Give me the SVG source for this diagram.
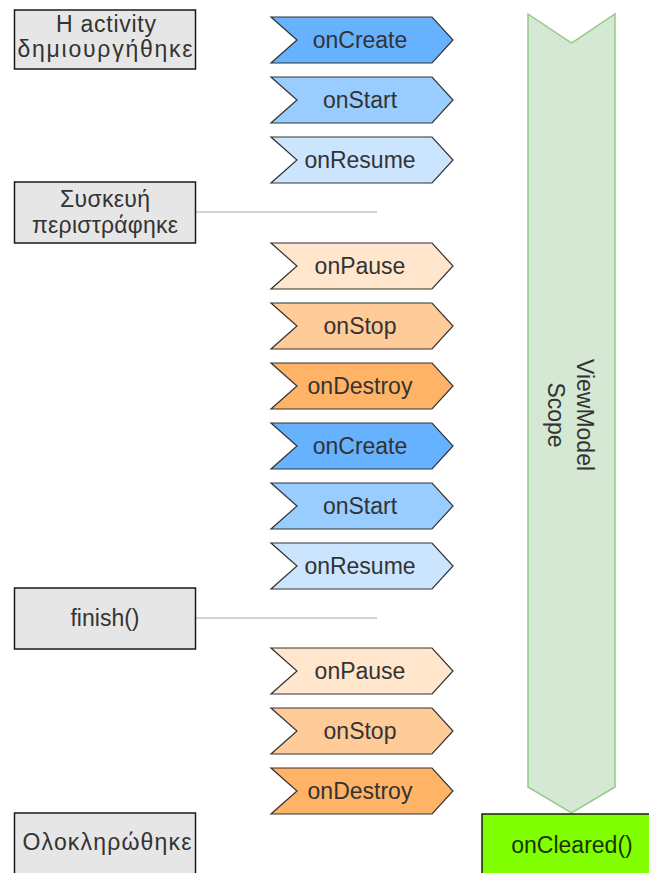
<svg xmlns="http://www.w3.org/2000/svg" width="649" height="873" viewBox="0 0 649 873">
  <style>
    text { font-family: "Liberation Sans", Arial, sans-serif; font-size: 23px; fill: #333333; text-anchor: middle; }
    .event { fill: #e6e6e6; stroke: #1a1a1a; stroke-width: 1.5; }
    .step { stroke: #333333; stroke-width: 1.2; stroke-linejoin: miter; }
    .c1 { fill: #66b2ff; }
    .c2 { fill: #99ccff; }
    .c3 { fill: #cce5ff; }
    .d1 { fill: #ffe6cc; }
    .d2 { fill: #ffcc99; }
    .d3 { fill: #ffb366; }
    .link { stroke: #d3d3d3; stroke-width: 2; fill: none; }
    .scope { fill: #d5e8d4; stroke: #97c98a; stroke-width: 1.5; }
    .cleared { fill: #80ff00; stroke: #1a1a1a; stroke-width: 1.5; }
  </style>
  <defs>
    <!-- lifecycle step shape, 182 x 46, origin at top-left -->
    <polygon id="stepShape" points="0,0 161,0 182,23 161,46 0,46 26,23"/>
  </defs>

  <!-- connectors -->
  <g id="connectors">
    <line class="link" x1="196" y1="212" x2="377" y2="212"/>
    <line class="link" x1="196" y1="618" x2="377" y2="618"/>
  </g>

  <!-- ViewModel scope band -->
  <g id="viewmodel-scope">
    <polygon class="scope" points="528,14 571.5,43 615,14 615,787 571.5,813 528,787"/>
    <text transform="translate(571,415) rotate(90)"><tspan x="0" y="-6">ViewModel</tspan><tspan x="0" y="23">Scope</tspan></text>
  </g>

  <g id="on-cleared">
    <rect class="cleared" x="482" y="814" width="182" height="62"/>
    <text x="572" y="853" style="fill:#1a3300">onCleared()</text>
  </g>

  <!-- activity events -->
  <g id="activity-created">
    <rect class="event" x="14.5" y="10" width="181" height="59"/>
    <text x="106" y="32" textLength="100">H activity</text>
    <text x="105" y="57" textLength="175">δημιουργήθηκε</text>
  </g>
  <g id="device-rotated">
    <rect class="event" x="14.5" y="182" width="181" height="61"/>
    <text x="105" y="207" textLength="90">Συσκευή</text>
    <text x="105" y="233" textLength="146">περιστράφηκε</text>
  </g>
  <g id="finish-called">
    <rect class="event" x="14.5" y="588" width="181" height="61"/>
    <text x="105" y="626">finish()</text>
  </g>
  <g id="completed">
    <rect class="event" x="14.5" y="813" width="181" height="62"/>
    <text x="107" y="850" textLength="169">Ολοκληρώθηκε</text>
  </g>

  <!-- first lifecycle -->
  <g id="on-create-1" transform="translate(271,17)">
    <use href="#stepShape" class="step c1"/>
    <text x="89" y="31">onCreate</text>
  </g>
  <g id="on-start-1" transform="translate(271,77)">
    <use href="#stepShape" class="step c2"/>
    <text x="89" y="31">onStart</text>
  </g>
  <g id="on-resume-1" transform="translate(271,137)">
    <use href="#stepShape" class="step c3"/>
    <text x="89" y="31">onResume</text>
  </g>
  <g id="on-pause-1" transform="translate(271,243)">
    <use href="#stepShape" class="step d1"/>
    <text x="89" y="31">onPause</text>
  </g>
  <g id="on-stop-1" transform="translate(271,303)">
    <use href="#stepShape" class="step d2"/>
    <text x="89" y="31">onStop</text>
  </g>
  <g id="on-destroy-1" transform="translate(271,363)">
    <use href="#stepShape" class="step d3"/>
    <text x="89" y="31">onDestroy</text>
  </g>

  <!-- second lifecycle -->
  <g id="on-create-2" transform="translate(271,423)">
    <use href="#stepShape" class="step c1"/>
    <text x="89" y="31">onCreate</text>
  </g>
  <g id="on-start-2" transform="translate(271,483)">
    <use href="#stepShape" class="step c2"/>
    <text x="89" y="31">onStart</text>
  </g>
  <g id="on-resume-2" transform="translate(271,543)">
    <use href="#stepShape" class="step c3"/>
    <text x="89" y="31">onResume</text>
  </g>
  <g id="on-pause-2" transform="translate(271,648)">
    <use href="#stepShape" class="step d1"/>
    <text x="89" y="31">onPause</text>
  </g>
  <g id="on-stop-2" transform="translate(271,708)">
    <use href="#stepShape" class="step d2"/>
    <text x="89" y="31">onStop</text>
  </g>
  <g id="on-destroy-2" transform="translate(271,768)">
    <use href="#stepShape" class="step d3"/>
    <text x="89" y="31">onDestroy</text>
  </g>
</svg>
